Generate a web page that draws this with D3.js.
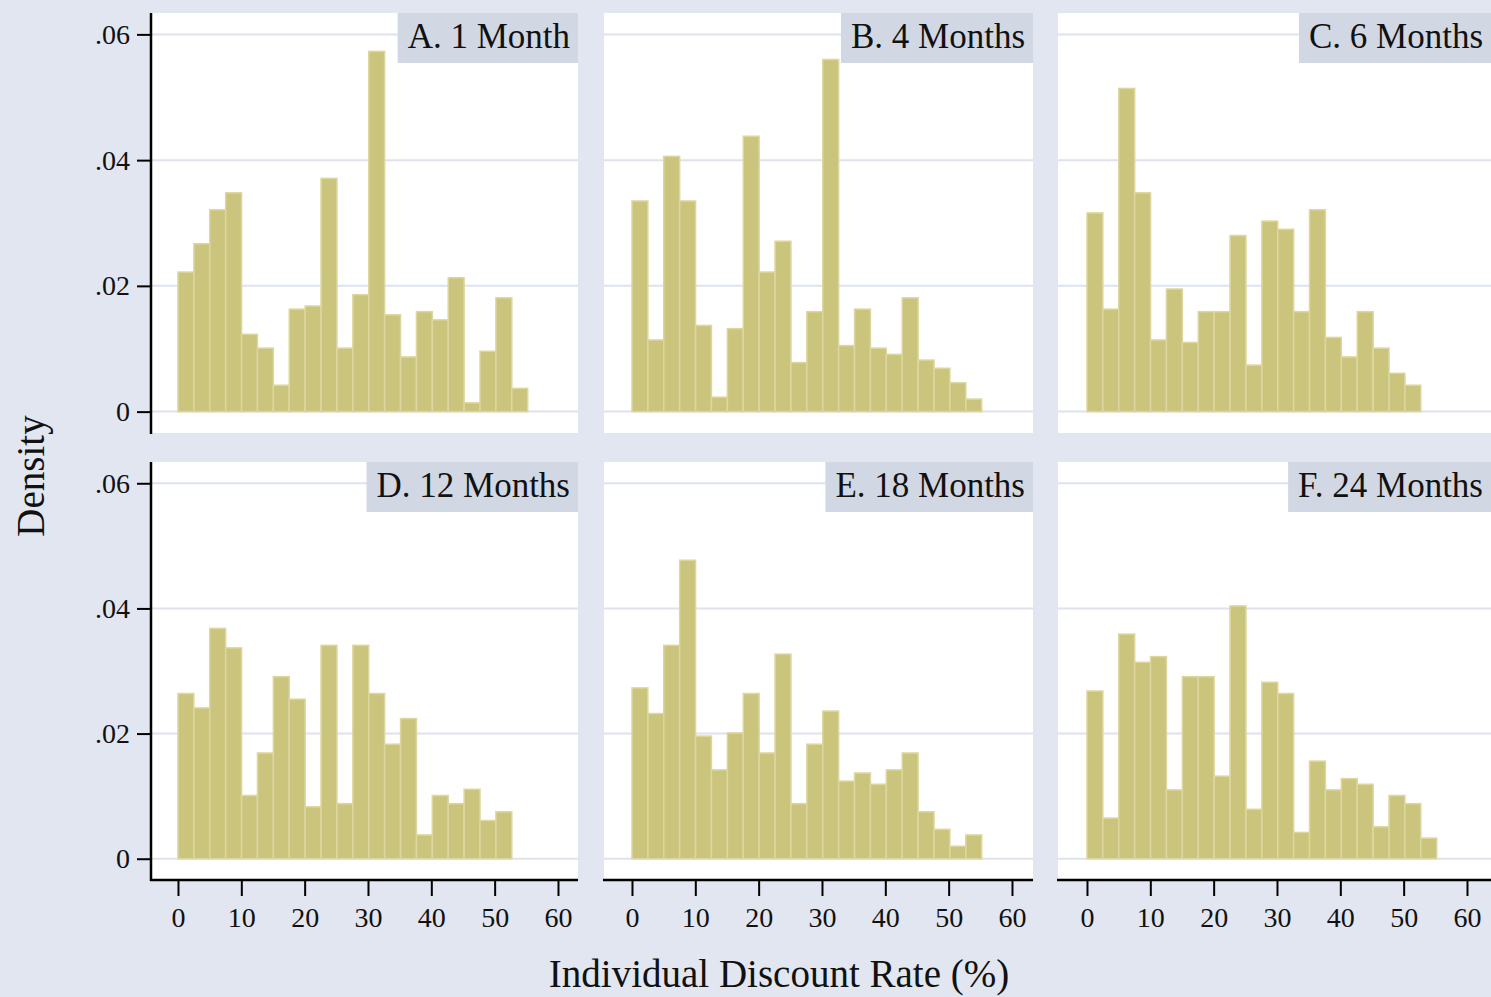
<!DOCTYPE html>
<html>
<head>
<meta charset="utf-8">
<script src="https://cdn.jsdelivr.net/npm/d3@7"></script>
<style>
  body { margin: 0; background: #e2e6f0; }
  svg text { font-family: "Liberation Serif", "DejaVu Serif", serif; fill: #111; }
</style>
</head>
<body>
<div id="graph"></div>
<script>
var panelNames = ["A. 1 Month", "B. 4 Months", "C. 6 Months", "D. 12 Months", "E. 18 Months", "F. 24 Months"];

var binWidth = 2.51;

var densA = [0.0222, 0.0267, 0.0321, 0.0348, 0.0123, 0.0101, 0.0042, 0.0163, 0.0168, 0.0371, 0.0101,
  0.0186, 0.0573, 0.0154, 0.0087, 0.0159, 0.0146, 0.0213, 0.0014, 0.0096, 0.0181, 0.0037];
var densB = [0.0335, 0.0114, 0.0406, 0.0335, 0.0137, 0.0023, 0.0132, 0.0438, 0.0222, 0.0271, 0.0078,
  0.0159, 0.0560, 0.0105, 0.0163, 0.0101, 0.0091, 0.0181, 0.0082, 0.0069, 0.0046, 0.0020];
var densC = [0.0316, 0.0163, 0.0514, 0.0348, 0.0114, 0.0195, 0.0110, 0.0159, 0.0159, 0.0280, 0.0074,
  0.0303, 0.0290, 0.0159, 0.0321, 0.0118, 0.0087, 0.0159, 0.0101, 0.0061, 0.0042];
var densD = [0.0264, 0.0241, 0.0368, 0.0337, 0.0101, 0.0169, 0.0291, 0.0255, 0.0083, 0.0341, 0.0088,
  0.0341, 0.0264, 0.0183, 0.0224, 0.0038, 0.0101, 0.0088, 0.0111, 0.0061, 0.0075];
var densE = [0.0273, 0.0232, 0.0341, 0.0477, 0.0196, 0.0142, 0.0201, 0.0264, 0.0169, 0.0327, 0.0088,
  0.0183, 0.0236, 0.0124, 0.0137, 0.0119, 0.0142, 0.0169, 0.0075, 0.0047, 0.0020, 0.0038];
var densF = [0.0268, 0.0065, 0.0359, 0.0314, 0.0323, 0.0110, 0.0291, 0.0291, 0.0132, 0.0404, 0.0079,
  0.0282, 0.0264, 0.0042, 0.0156, 0.0110, 0.0128, 0.0119, 0.0051, 0.0101, 0.0088, 0.0033];

var yTicks = [0, 0.02, 0.04, 0.06];
var yTickLabels = ["0", ".02", ".04", ".06"];
var xTicks = [0, 10, 20, 30, 40, 50, 60];

var allDens = [densA, densB, densC, densD, densE, densF];

var W = 1491, H = 997;

// panel frames (white areas) and scale origins
var cols = [
  {left: 151, right: 578, x0: 151},
  {left: 604, right: 1033, x0: 605},
  {left: 1058, right: 1491, x0: 1060}
];
var rows = [
  {top: 13, bottom: 433},
  {top: 462, bottom: 880}
];
var scaleW = 427;

var svg = d3.select("#graph").append("svg")
    .attr("width", W)
    .attr("height", H);

svg.append("rect").attr("width", W).attr("height", H).attr("fill", "#e2e6f0");

allDens.forEach(function(dens, i) {
  var c = cols[i % 3], r = rows[Math.floor(i / 3)];

  var x = d3.scaleLinear().domain([-4.26, 63.16]).range([c.x0, c.x0 + scaleW]);
  var y = d3.scaleLinear().domain([-0.0034, 0.0634]).range([r.bottom, r.top]);

  var g = svg.append("g");

  g.append("rect")
    .attr("x", c.left).attr("y", r.top)
    .attr("width", c.right - c.left).attr("height", r.bottom - r.top)
    .attr("fill", "#ffffff");

  g.selectAll(".grid")
    .data(yTicks)
    .enter().append("line")
      .attr("x1", c.left).attr("x2", c.right)
      .attr("y1", function(d) { return y(d); })
      .attr("y2", function(d) { return y(d); })
      .attr("stroke", "#dde2ee")
      .attr("stroke-width", 2);

  g.selectAll(".bar")
    .data(dens)
    .enter().append("rect")
      .attr("x", function(d, k) { return x(k * binWidth); })
      .attr("width", function(d, k) { return x((k + 1) * binWidth) - x(k * binWidth); })
      .attr("y", function(d) { return y(d); })
      .attr("height", function(d) { return y(0) - y(d); })
      .attr("fill", "#cbc47d")
      .attr("stroke", "#dcd79f")
      .attr("stroke-width", 1.5);

  // panel label box
  var label = g.append("text")
    .attr("x", c.right - 8)
    .attr("y", r.top + 35)
    .attr("text-anchor", "end")
    .style("font-size", "35px")
    .text(panelNames[i]);
  var tw = label.node().getComputedTextLength();
  g.insert("rect", "text")
    .attr("x", c.right - tw - 18)
    .attr("y", r.top)
    .attr("width", tw + 18)
    .attr("height", 50)
    .attr("fill", "#d2d8e3");

  // y axis on the first column
  if (i % 3 === 0) {
    var ya = g.append("g")
      .attr("transform", "translate(" + c.left + ",0)")
      .call(d3.axisLeft(y).tickValues(yTicks)
        .tickFormat(function(d, k) { return yTickLabels[k]; })
        .tickSize(14).tickPadding(7));
    ya.select(".domain").remove();
    ya.selectAll("line").attr("stroke", "#000").attr("stroke-width", 2);
    ya.selectAll("text").style("font-size", "28px").attr("fill", "#111");
    g.append("line")
      .attr("x1", c.left).attr("x2", c.left)
      .attr("y1", r.top).attr("y2", r.bottom + 1)
      .attr("stroke", "#000").attr("stroke-width", 2.5);
  }

  // x axis on the bottom row
  if (i >= 3) {
    var xa = g.append("g")
      .attr("transform", "translate(0," + r.bottom + ")")
      .call(d3.axisBottom(x).tickValues(xTicks).tickSize(16).tickPadding(11));
    xa.select(".domain").remove();
    xa.selectAll("line").attr("stroke", "#000").attr("stroke-width", 2);
    xa.selectAll("text").style("font-size", "28px").attr("fill", "#111");
    g.append("line")
      .attr("x1", c.left - 1).attr("x2", c.right)
      .attr("y1", r.bottom).attr("y2", r.bottom)
      .attr("stroke", "#000").attr("stroke-width", 2.5);
  }
});

svg.append("text")
  .attr("transform", "translate(44,476) rotate(-90)")
  .attr("text-anchor", "middle")
  .style("font-size", "39px")
  .text("Density");

svg.append("text")
  .attr("x", 779)
  .attr("y", 987)
  .attr("text-anchor", "middle")
  .style("font-size", "39px")
  .text("Individual Discount Rate (%)");
</script>
</body>
</html>
